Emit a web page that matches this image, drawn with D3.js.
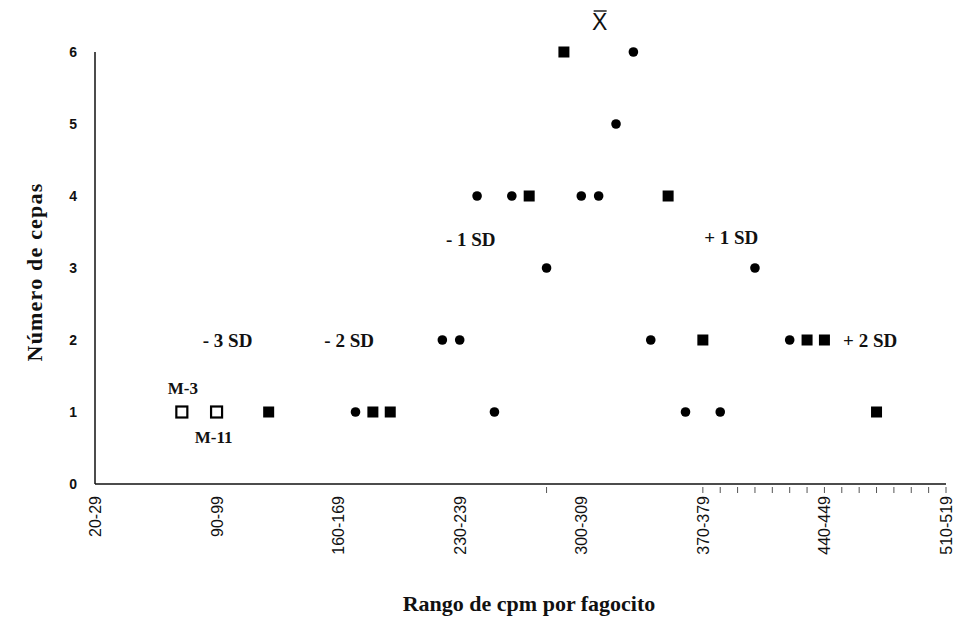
<!DOCTYPE html>
<html>
<head>
<meta charset="utf-8">
<script src="https://cdn.jsdelivr.net/npm/d3@7"></script>
<style>
  body { margin: 0; background: #fff; }
  svg { display: block; }
  .tick-label { font-family: "Liberation Sans", Arial, sans-serif; font-size: 16px; fill: #111; }
  .ylab { font-family: "Liberation Sans", Arial, sans-serif; font-size: 14px; font-weight: bold; fill: #111; }
  .title { font-family: "Liberation Serif", "Times New Roman", serif; font-size: 22px; font-weight: bold; fill: #111; }
  .note { font-family: "Liberation Serif", "Times New Roman", serif; font-size: 19px; font-weight: bold; fill: #111; }
</style>
</head>
<body>
<svg id="chart" width="960" height="621"></svg>
<script>
// cpm ranges, 20-29 ... 510-519
const categories = d3.range(20, 520, 10).map(v => `${v}-${v + 9}`);
const labelEvery = 7;

// strains of the first group (circles)
const circleCats = ['170-179', '250-259', '360-369', '380-389',
  '220-229', '230-239', '340-349', '420-429',
  '280-289', '400-409',
  '240-249', '260-269', '300-309', '310-319',
  '320-329', '330-339'];
const circleCounts = [1, 1, 1, 1, 2, 2, 2, 2, 3, 3, 4, 4, 4, 4, 5, 6];

// strains of the second group (filled squares)
const squareCats = ['120-129', '180-189', '190-199', '470-479',
  '370-379', '430-439', '440-449',
  '270-279', '350-359', '290-299'];
const squareCounts = [1, 1, 1, 1, 2, 2, 2, 4, 4, 6];

// reference strains (open squares)
const openCats = ['70-79', '90-99'];
const openCounts = [1, 1];
const openNames = ['M-3', 'M-11'];

// SD marks: [text, category, level]
const sdNotes = [
  ['- 3 SD', '90-99', 2],
  ['- 2 SD', '160-169', 2],
  ['- 1 SD', '230-239', 3.4],
  ['+ 1 SD', '380-389', 3.42],
  ['+ 2 SD', '460-469', 2]
];
const meanCat = '310-319';

const svg = d3.select('#chart');
const margin = {left: 95, right: 14, top: 52, bottom: 137};
const width = 960 - margin.left - margin.right;
const height = 621 - margin.top - margin.bottom;

const x = d3.scalePoint().domain(categories).range([0, width]);
const y = d3.scaleLinear().domain([0, 6]).range([height, 0]);

const g = svg.append('g').attr('transform', `translate(${margin.left},${margin.top})`);

// axes
g.append('line').attr('x1', 0).attr('x2', 0).attr('y1', 0).attr('y2', height)
  .attr('stroke', '#111').attr('stroke-width', 1.5);
g.append('line').attr('x1', 0).attr('x2', width).attr('y1', height).attr('y2', height)
  .attr('stroke', '#111').attr('stroke-width', 1.5);

g.selectAll('.ylab').data(y.ticks(6)).enter().append('text')
  .attr('class', 'ylab')
  .attr('x', -18).attr('y', d => y(d)).attr('dy', '0.35em')
  .attr('text-anchor', 'end').text(d => d);

// faint minor ticks on the upper ranges
const minor = categories.filter((c, i) => i === 26 || i >= 35);
g.selectAll('.minor').data(minor).enter().append('line')
  .attr('x1', d => x(d)).attr('x2', d => x(d))
  .attr('y1', height + 3).attr('y2', height + 9)
  .attr('stroke', '#555').attr('stroke-width', 1);

g.selectAll('.tick-label')
  .data(categories.filter((c, i) => i % labelEvery === 0))
  .enter().append('text')
  .attr('class', 'tick-label')
  .attr('transform', d => `translate(${x(d) + 6},${height + 12}) rotate(-90)`)
  .attr('text-anchor', 'end').text(d => d);

// titles
svg.append('text').attr('class', 'title')
  .style('letter-spacing', '1.2px')
  .attr('transform', `translate(42,${margin.top + height / 2 + 4}) rotate(-90)`)
  .attr('text-anchor', 'middle').text('Número de cepas');
svg.append('text').attr('class', 'title')
  .attr('x', 529).attr('y', 611)
  .attr('text-anchor', 'middle').text('Rango de cpm por fagocito');

// points
g.selectAll('.circ').data(circleCats).enter().append('circle')
  .attr('cx', d => x(d)).attr('cy', (d, i) => y(circleCounts[i]))
  .attr('r', 4.8).attr('fill', '#000');

g.selectAll('.sq').data(squareCats).enter().append('rect')
  .attr('x', d => x(d) - 5.5).attr('y', (d, i) => y(squareCounts[i]) - 5.5)
  .attr('width', 11).attr('height', 11).attr('fill', '#000');

g.selectAll('.open').data(openCats).enter().append('rect')
  .attr('x', d => x(d) - 5.5).attr('y', (d, i) => y(openCounts[i]) - 5.5)
  .attr('width', 11).attr('height', 11)
  .attr('fill', '#fff').attr('stroke', '#000').attr('stroke-width', 2.2);

// strain names over / under the open squares
g.append('text').attr('class', 'note').style('font-size', '17px')
  .attr('x', x(openCats[0]) + 1).attr('y', y(openCounts[0]) - 18)
  .attr('text-anchor', 'middle').text(openNames[0]);
g.append('text').attr('class', 'note').style('font-size', '17px')
  .attr('x', x(openCats[1]) - 3).attr('y', y(openCounts[1]) + 31)
  .attr('text-anchor', 'middle').text(openNames[1]);

g.selectAll('.sd').data(sdNotes).enter().append('text')
  .attr('class', 'note')
  .attr('x', d => x(d[1]) + 11).attr('y', d => y(d[2])).attr('dy', '0.35em')
  .attr('text-anchor', 'middle').text(d => d[0]);

// mean mark: X with a bar on top
const mx = x(meanCat) + 1;
g.append('text')
  .attr('x', mx).attr('y', -22)
  .attr('text-anchor', 'middle')
  .style('font-family', '"Liberation Sans", Arial, sans-serif')
  .style('font-size', '23px').attr('fill', '#111').text('X');
g.append('line').attr('x1', mx - 6).attr('x2', mx + 7)
  .attr('y1', -41).attr('y2', -41).attr('stroke', '#111').attr('stroke-width', 1.4);
</script>
</body>
</html>
